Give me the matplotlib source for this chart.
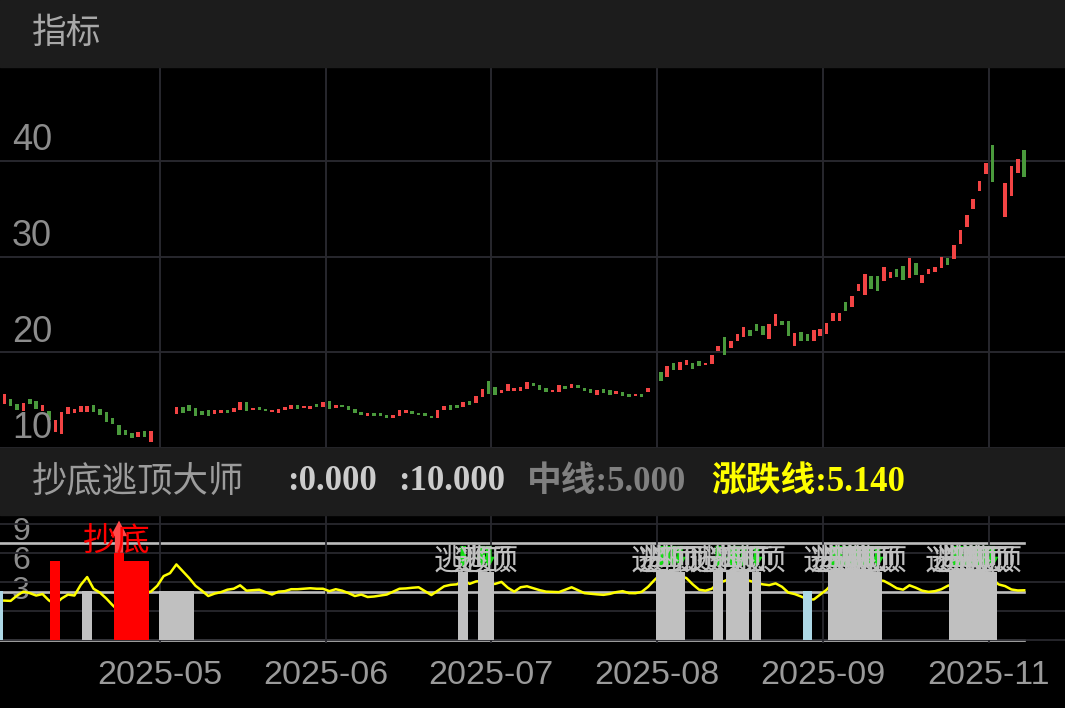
import numpy as np
import matplotlib
matplotlib.use("Agg")
import matplotlib.pyplot as plt
import matplotlib.transforms as mtransforms
from matplotlib.patches import Rectangle

W, H = 1065, 708
nan = np.nan

# candle bodies, one per trading day (day 0 sits just left of the visible area)
opens = [15.3, 14.60, 15.15, 14.60, 13.84, 15.15, 14.94, 13.84, 13.84, 11.69,
         11.48, 13.56, 13.63, 13.74, 13.80, 14.53, 14.08, 13.74, 13.15, 12.45,
         11.93, 11.52, 11.10, 11.77, 10.65, nan, nan, nan, 13.56, 14.26,
         14.47, 14.18, 13.90, 13.95, 13.59, 13.67, 13.98, 13.77, 14.01, 14.78,
         13.95, 14.29, 14.08, 13.80, 13.70, 13.95, 14.08, 14.50, 14.18, 14.08,
         14.63, 14.32, 14.88, 14.18, 14.53, 14.42, 14.11, 13.77, 13.35, 13.67,
         13.63, 13.43, 13.15, 13.39, 13.67, 13.90, 13.67, 13.67, 13.39, 13.18,
         13.98, 14.50, 14.50, 14.26, 14.94, 14.67, 15.36, 16.96, 16.33, 15.77,
         15.95, 15.98, 15.98, 16.19, 16.78, 16.60, 16.26, 15.82, 15.88, 16.47,
         16.26, 16.54, 16.29, 16.16, 15.53, 16.13, 16.09, 15.67, 15.85, 15.64,
         15.46, 15.67, 15.85, nan, 17.92, 17.40, 18.93, 18.16, 18.65, 18.89,
         19.14, 18.72, 18.79, 20.10, 21.63, 20.42, 21.21, 21.56, 22.28, 22.98,
         22.70, 21.42, 22.77, 23.22, 23.25, 20.65, 22.08, 21.87, 21.17, 21.73,
         21.94, 23.22, 23.22, 25.22, 24.70, 26.37, 26.00, 27.96, 27.92, 27.48,
         27.79, 28.75, 28.96, 27.76, 29.31, 27.24, 28.13, 28.34, 28.80, 29.87,
         29.73, 31.35, 33.08, 34.92, 36.82, 38.62, 41.70, nan, 34.15, 36.33,
         38.76, 41.11]
closes = [14.9, 15.67, 14.36, 13.95, 14.74, 14.60, 14.11, 14.47, 12.97, 12.97,
          13.74, 14.26, 14.08, 14.36, 14.42, 13.80, 13.43, 12.70, 12.49, 11.41,
          11.31, 11.07, 11.69, 11.17, 11.77, nan, nan, nan, 14.26, 13.70,
          13.90, 13.32, 13.43, 13.39, 13.98, 13.98, 13.70, 14.18, 14.78, 13.84,
          14.18, 14.01, 13.84, 14.01, 14.11, 14.29, 14.50, 14.08, 14.42, 14.42,
          14.32, 14.78, 14.08, 14.47, 14.29, 13.98, 13.70, 13.49, 13.70, 13.39,
          13.35, 13.15, 13.46, 13.95, 13.95, 13.56, 13.49, 13.39, 13.15, 13.95,
          14.36, 13.98, 14.15, 14.84, 14.53, 15.43, 16.16, 15.67, 15.57, 16.09,
          16.68, 16.29, 16.37, 16.88, 16.44, 16.09, 15.88, 16.09, 16.54, 16.19,
          16.65, 16.26, 15.95, 15.74, 16.09, 15.71, 15.57, 15.98, 15.43, 15.36,
          15.64, 15.36, 16.26, nan, 17.02, 18.55, 18.16, 19.03, 19.20, 18.27,
          18.58, 18.93, 19.69, 20.62, 19.72, 21.14, 21.87, 22.60, 21.69, 22.21,
          21.80, 22.98, 24.02, 22.84, 21.69, 22.00, 21.14, 21.17, 22.36, 22.42,
          23.01, 24.15, 24.15, 24.33, 25.92, 27.17, 28.20, 26.57, 26.37, 28.93,
          28.38, 27.86, 27.58, 29.87, 28.10, 28.03, 28.72, 28.90, 29.94, 29.07,
          31.18, 32.74, 34.36, 36.06, 37.86, 39.73, 37.79, nan, 37.65, 39.49,
          40.22, 38.31]

# 涨跌线 (yellow line) of the indicator
swing = [nan, 4.08, 4.05, 4.6, 5.0, 4.85, 4.6, 4.75, 4.1, 3.7,
         4.3, 4.7, 4.6, 5.7, 6.5, 5.3, 4.9, 4.3, 3.6, 3.0,
         3.2, 3.6, 4.2, 4.9, 5.0, 5.6, 6.6, 6.9, 7.8, 7.1,
         6.4, 5.6, 5.1, 4.55, 4.8, 4.95, 5.2, 5.3, 5.65, 5.1,
         5.15, 5.2, 4.95, 4.7, 5.0, 5.05, 5.25, 5.25, 5.3, 5.35,
         5.3, 5.3, 5.05, 5.25, 5.1, 4.85, 4.55, 4.7, 4.45, 4.5,
         4.6, 4.7, 5.0, 5.3, 5.33, 5.4, 5.45, 5.05, 4.65, 5.1,
         5.55, 5.7, 5.75, 6.2, 5.8, 6.05, 6.1, 5.75, 5.8, 6.0,
         5.4, 5.0, 5.45, 5.55, 5.35, 5.15, 5.0, 4.98, 4.95, 5.2,
         5.45, 5.15, 4.85, 4.78, 4.72, 4.67, 4.77, 4.95, 5.05, 4.85,
         4.84, 4.98, 5.5, 6.2, 6.8, 7.0, 6.9, 6.6, 6.4, 5.75,
         5.2, 5.1, 5.3, 5.9, 6.1, 6.4, 6.5, 6.3, 6.1, 5.9,
         5.75, 5.67, 5.85, 5.5, 4.9, 4.75, 4.5, 4.2, 4.2, 4.7,
         5.2, 5.9, 6.5, 6.8, 7.0, 6.9, 6.7, 6.4, 6.2, 6.1,
         5.75, 5.35, 5.2, 5.65, 5.4, 5.1, 4.98, 5.05, 5.25, 5.6,
         5.8, 6.0, 6.3, 6.6, 6.9, 6.8, 6.3, 5.74, 5.57, 5.22,
         5.12, 5.14]

# signal bars of the indicator (day index, height)
watch_days = [0, 127]
watch_level = 5.05
hold_days = [14, 26, 27, 28, 29, 30]
hold_level = 5.05
buy_days = [9, 20, 21, 22, 23]
buy_level = 8.2
bottom_days = [19]
bottom_level = 9.0
top_days = [73, 76, 77, 104, 105, 106, 107, 113, 115, 116, 117, 119,
            131, 132, 133, 134, 135, 136, 137, 138,
            150, 151, 152, 153, 154, 155, 156]
top_level = 7.05
ref_levels = [0, 10, 5]

month_days = [25.4, 51.4, 77.4, 103.4, 129.4, 155.4]
month_labels = ["2025-05", "2025-06", "2025-07", "2025-08", "2025-09", "2025-11"]
price_ticks = [10, 20, 30, 40]
ind_ticks = [3, 6, 9]
ind_grid = [0, 3, 6, 9, 12]

plt.rcParams["font.family"] = ["Liberation Sans", "Noto Sans CJK SC"]
CJK = ["Noto Sans CJK SC", "DejaVu Sans"]
SERIF = ["Liberation Serif", "Noto Sans CJK SC"]

RED = "#f24444"
GREEN = "#4a9a3c"
GRID = "#28282e"
LABEL = "#8c8c8c"
BAND = "#1c1c1c"

fig = plt.figure(figsize=(W / 100, H / 100), dpi=100, facecolor="black")


def fy(py):
    return 1 - py / H


for top, bot in [(0, 67), (448, 515)]:
    fig.patches.append(Rectangle((0, fy(bot)), 1, (bot - top) / H,
                                 transform=fig.transFigure, color=BAND, zorder=0))

days = np.arange(len(opens))
o = np.array(opens)
c = np.array(closes)
xlim = (0.33, 167.4)

# ---- price panel
ax1 = fig.add_axes([0, fy(448), 1, (448 - 67) / H], facecolor="black")
colors = [RED if cc >= oo else GREEN for oo, cc in zip(o, c)]
ax1.bar(days, np.abs(c - o), bottom=np.minimum(o, c), width=0.55,
        color=colors, zorder=3)
ax1.set_xlim(*xlim)
ax1.set_ylim(10.24, 49.8)
ax1.set_xticks(month_days)
ax1.set_yticks(price_ticks)
ax1.grid(True, color=GRID, lw=1.4, zorder=0)
ax1.tick_params(length=0, labelbottom=False, labelleft=False)
for s in ax1.spines.values():
    s.set_visible(False)
tr1 = mtransforms.offset_copy(ax1.get_yaxis_transform(), fig=fig, y=7.5, units="points")
for v in price_ticks:
    ax1.text(12 / W, v, str(v), transform=tr1, fontsize=26, color=LABEL,
             va="baseline", ha="left", zorder=5)

# ---- indicator panel
ax2 = fig.add_axes([0, fy(643), 1, (643 - 515) / H], facecolor="black")
ax2.set_xlim(*xlim)
ax2.set_ylim(-0.28, 12.88)
ax2.set_xticks(month_days, month_labels)
ax2.set_yticks(ind_grid)
ax2.grid(True, color=GRID, lw=1.3, zorder=0)
ax2.tick_params(length=0, labelleft=False, labelsize=24.5, labelcolor="#9a9a9a", pad=12.5)
for s in ax2.spines.values():
    s.set_visible(False)

ax2.hlines(ref_levels, days[0], days[-1], colors="#bdbdbd", lw=1.9,
           capstyle="projecting", zorder=1)
ax2.plot(days, swing, color="#ffff00", lw=1.8, zorder=2)

ax2.bar(watch_days, watch_level, width=1.5, color="#add8e6", zorder=3)
ax2.bar(hold_days, hold_level, width=1.5, color="#c0c0c0", zorder=3)
ax2.bar(top_days, top_level, width=1.5, color="#c0c0c0", zorder=3)
ax2.bar(buy_days, buy_level, width=1.5, color="#ff0000", zorder=3)
ax2.bar(bottom_days, bottom_level, width=1.5, color="#ff0000", zorder=3)

for d in top_days:
    ax2.annotate("", xy=(d, top_level + 0.4), xytext=(d, 9.7),
                 arrowprops=dict(arrowstyle="simple,head_length=1.0,head_width=1.1,tail_width=0.5",
                                 color="#11dd11", lw=0, shrinkA=0, shrinkB=0,
                                 mutation_scale=8), zorder=4)
    ax2.text(d, top_level, "逃顶", family=CJK, fontsize=21.5, color="#c0c0c0",
             ha="center", va="baseline", zorder=5,
             transform=mtransforms.offset_copy(ax2.transData, fig=fig, y=1.5, units="points"))
for d in bottom_days:
    ax2.annotate("", xy=(d, 12.3), xytext=(d, bottom_level),
                 arrowprops=dict(arrowstyle="simple,head_length=1.4,head_width=1.5,tail_width=0.75",
                                 color="#ff4a4a", lw=0, shrinkA=0, shrinkB=0,
                                 mutation_scale=8), zorder=4)
    ax2.text(d - 0.4, bottom_level, "抄底", family=CJK, fontsize=24, color="#ff0000",
             ha="center", va="baseline", zorder=5,
             transform=mtransforms.offset_copy(ax2.transData, fig=fig, y=1.5, units="points"))

tr2 = mtransforms.offset_copy(ax2.get_yaxis_transform(), fig=fig, y=9.0, units="points")
for v in ind_ticks:
    ax2.text(12 / W, v, str(v), transform=tr2, fontsize=23, color=LABEL,
             va="baseline", ha="left", zorder=1.5)

# ---- header texts
fig.text(32 / W, fy(33), "指标", family=CJK, fontsize=25, color="#a8a8a8", va="center")
fig.text(32 / W, fy(482), "抄底逃顶大师", family=CJK, fontsize=25.5, color="#9c9c9c", va="center")
fig.text(287 / W, fy(482), ":0.000", family=SERIF, fontsize=25, fontweight="bold",
         color="#cccccc", va="center")
fig.text(398 / W, fy(482), ":10.000", family=SERIF, fontsize=25, fontweight="bold",
         color="#cccccc", va="center")
fig.text(527 / W, fy(482), "中线:5.000", family=SERIF, fontsize=25, fontweight="bold",
         color="#808080", va="center")
fig.text(711 / W, fy(482), "涨跌线:5.140", family=SERIF, fontsize=25, fontweight="bold",
         color="#ffff00", va="center")

fig.savefig("out.png", dpi=100, facecolor="black")
